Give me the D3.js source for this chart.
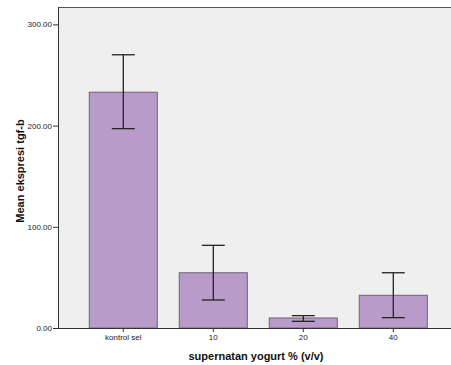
<!DOCTYPE html>
<html>
<head>
<meta charset="utf-8">
<script src="https://cdn.jsdelivr.net/npm/d3@7"></script>
<style>
  body { margin: 0; background: #fff; }
  svg { display: block; font-family: Arial, "Liberation Sans", sans-serif; }
</style>
</head>
<body>
<svg id="chart" width="451" height="365"></svg>
<script>
var kategori = ["kontrol sel", "10", "20", "40"];
var rerata = [233, 54.6, 9.9, 32.3];
var errAtas = [270, 81.7, 12.2, 54.6];
var errBawah = [197, 27.7, 6.6, 10.2];
var yTicks = [0, 100, 200, 300];

var svg = d3.select("#chart");
var kiri = 58, kanan = 451, atas = 7, bawah = 328;

var y = d3.scaleLinear().domain([0, 300]).range([bawah, 24.4]);
var x = d3.scaleBand().domain(kategori).range([78.3, 438.3])
	.paddingInner(0.244).paddingOuter(0.122);

// latar plot
svg.append("rect").attr("x", kiri).attr("y", atas)
	.attr("width", kanan - kiri).attr("height", bawah - atas)
	.attr("fill", "#efefef");
svg.append("line").attr("x1", kiri).attr("x2", kanan).attr("y1", atas + 0.5).attr("y2", atas + 0.5)
	.attr("stroke", "#555").attr("stroke-width", 1);

// batang
svg.selectAll("rect.bar").data(kategori).enter().append("rect")
	.attr("class", "bar")
	.attr("x", d => x(d))
	.attr("y", (d, i) => y(rerata[i]))
	.attr("width", x.bandwidth())
	.attr("height", (d, i) => y(0) - y(rerata[i]))
	.attr("fill", "#b99bc9")
	.attr("stroke", "#6f6275")
	.attr("stroke-width", 1);

// error bar
var cap = 11.5;
var eb = svg.selectAll("g.err").data(kategori).enter().append("g")
	.attr("class", "err")
	.attr("stroke", "#222").attr("stroke-width", 1.3);
eb.append("line")
	.attr("x1", d => x(d) + x.bandwidth() / 2).attr("x2", d => x(d) + x.bandwidth() / 2)
	.attr("y1", (d, i) => y(errAtas[i])).attr("y2", (d, i) => y(errBawah[i]));
eb.append("line")
	.attr("x1", d => x(d) + x.bandwidth() / 2 - cap).attr("x2", d => x(d) + x.bandwidth() / 2 + cap)
	.attr("y1", (d, i) => y(errAtas[i])).attr("y2", (d, i) => y(errAtas[i]));
eb.append("line")
	.attr("x1", d => x(d) + x.bandwidth() / 2 - cap).attr("x2", d => x(d) + x.bandwidth() / 2 + cap)
	.attr("y1", (d, i) => y(errBawah[i])).attr("y2", (d, i) => y(errBawah[i]));

// sumbu y
var sumbuY = svg.append("g").attr("transform", "translate(" + kiri + ",0)")
	.call(d3.axisLeft(y).tickValues(yTicks).tickFormat(d3.format(".2f")).tickSize(5).tickSizeOuter(0));
sumbuY.select(".domain").attr("d", "M0.5," + atas + "V" + bawah).attr("stroke", "#333");
sumbuY.selectAll(".tick line").attr("stroke", "#333");
sumbuY.selectAll(".tick text").attr("font-size", 8).attr("fill", "#222").attr("x", -6)
	.attr("font-family", "Arial, 'Liberation Sans', sans-serif");

// sumbu x
var sumbuX = svg.append("g").attr("transform", "translate(0," + bawah + ")")
	.call(d3.axisBottom(x).tickSize(4).tickSizeOuter(0));
sumbuX.select(".domain").attr("d", "M" + kiri + ",0.5H" + kanan).attr("stroke", "#333");
sumbuX.selectAll(".tick line").attr("stroke", "#333");
sumbuX.selectAll(".tick text").attr("font-size", 8).attr("fill", "#222").attr("y", 6)
	.attr("font-family", "Arial, 'Liberation Sans', sans-serif");

// judul sumbu
svg.append("text").attr("x", 256).attr("y", 360)
	.attr("text-anchor", "middle").attr("font-size", 11).attr("font-weight", "bold")
	.attr("fill", "#111").text("supernatan yogurt % (v/v)");
svg.append("text").attr("transform", "translate(24,171) rotate(-90)")
	.attr("text-anchor", "middle").attr("font-size", 11).attr("font-weight", "bold")
	.attr("fill", "#111").text("Mean ekspresi tgf-b");
</script>
</body>
</html>
